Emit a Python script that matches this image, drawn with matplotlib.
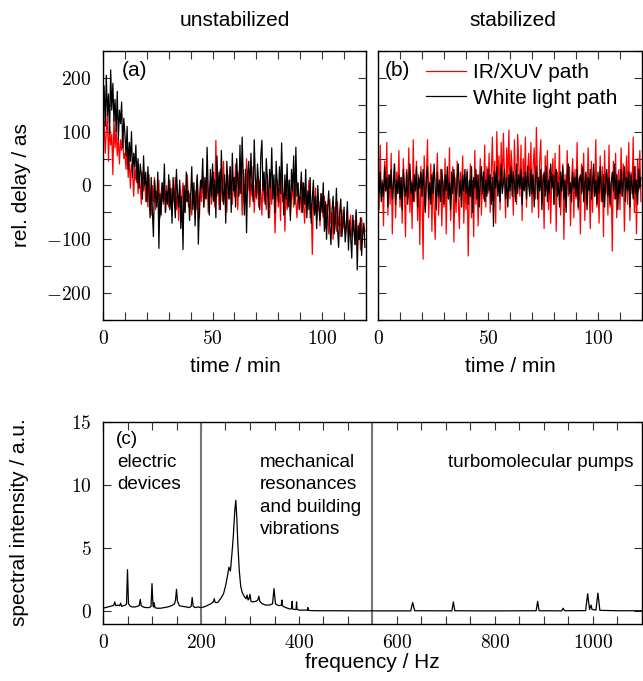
import numpy as np
import matplotlib
matplotlib.use("Agg")
import matplotlib.pyplot as plt
from matplotlib.ticker import MultipleLocator, FuncFormatter, NullFormatter

plt.rcParams['mathtext.fontset'] = 'cm'
plt.rcParams['font.family'] = ['Liberation Sans', 'DejaVu Sans']

# ---------------- data ----------------
time_step_min = 0.5

unstab_white = [
    150, 185, 110, 205, 130, 170, 95, 215, 140, 190, 120, 160, 100, 175, 85, 140, 115, 155, 70, 125,
    95, 55, 110, 30, 80, 45, 100, 15, 60, 35, 75, 5, 50, -5, 40, 20, -25, 55, 0, 25,
    -30, 35, -10, -60, 15, -45, -95, 10, -20, -40, 25, -117, -15, -55, 5, -30, 40, -50, -10, -35,
    20, -45, -5, -70, 15, -25, -60, 30, -15, -40, 10, -80, -20, -119, 0, -50, 25, -30, -10, -65,
    -20, 35, -45, 5, -75, -15, 20, -109, -35, 10, -5, 50, -40, 15, -25, 71, -10, -55, 30, -20,
    40, -30, 10, -60, 55, -15, 25, -45, 65, -5, -35, 20, -70, 45, 0, -25, 35, -50, 60, -10,
    15, -40, 50, 5, -20, 75, -15, 90, 10, -55, 30, -88, 20, 45, -10, 60, 0, -30, 85, 15,
    -20, 40, 5, -45, 55, 84, -10, 25, -35, 50, 10, -60, 30, -5, 70, -25, 20, -50, 45, 0,
    -30, 35, -15, 79, -5, -55, 20, -25, 40, -40, 10, -65, 30, -10, 55, -35, 71, -20, 5, -45,
    -15, 25, -50, 5, -35, 30, -60, -10, -45, 15, -70, -25, 10, -55, -20, -80, 0, -40, -65, -15,
    -50, 5, -85, -30, -100, -40, -10, -75, -110, -45, -20, -90, -60, -5, -80, -115, -50, -25, -95, -70,
    -40, -105, -80, -30, -120, -65, -95, -135, -55, -85, -110, -45, -157, -75, -100, -60, -130, -90, -70, -115,
]

unstab_ir = [
    80, 120, 60, 100, 135, 45, 110, 75, 95, 20, 125, 70, 105, 55, 90, 40, 85, 65, 100, 50,
    60, 30, 75, 15, 50, -5, 40, 25, -20, 35, 10, 45, -15, 20, 0, -35, 25, -10, 15, -30,
    5, -40, 20, -20, -55, 0, -30, 15, -45, -10, -25, 10, -60, -15, 5, -35, -5, -50, 0, -20,
    -40, 10, -25, -55, -5, -30, 15, -45, -15, -65, 0, -35, -20, 5, -50, -10, -30, 20, -40, -15,
    -25, -55, 5, -35, -10, -45, 15, -20, -60, 0, -30, 20, -40, -5, -25, 30, -50, -10, 10, -35,
    -15, 25, -40, 84, -20, 10, -45, 30, -5, -30, 45, -15, 5, -50, 20, -25, 35, -10, -35, 15,
    -20, 40, -5, -45, 25, -15, 10, -55, 30, 0, -30, 50, -10, 20, -40, 5, -20, 35, -50, 0,
    -25, 15, -40, 10, -15, -55, 25, -30, 0, -45, 20, -20, -60, 5, -35, 15, -10, -88, -25, 10,
    -40, -5, -65, 20, -30, -15, -85, 5, -45, -20, 10, -55, -25, 0, -40, 25, -30, -60, -10, -35,
    -20, -50, 5, -35, -70, -15, -45, -25, 10, -60, -35, -128, -20, -50, -5, -65, -40, -30, -75, -15,
    -45, -60, -20, -80, -35, -55, -90, -25, -70, -50, -100, -40, -65, -85, -30, -75, -55, -95, -45, -80,
    -60, -90, -70, -40, -105, -75, -55, -95, -80, -65, -110, -50, -85, -100, -70, -120, -60, -90, -75, -85,
]

stab_ir = [
    30, -45, 75, -20, 10, -75, 45, -10, 80, -55, 20, -35, 60, -90, 5, 40, -60, 25, -15, 65,
    -40, 15, -70, 50, -5, -95, 30, -25, 70, -50, 10, -80, 85, -30, 0, 45, -65, 20, -110, 35,
    -20, -137, 55, -45, 15, 85, -60, -10, 40, -85, 25, -35, -100, 5, 60, -55, -15, 30, -75, 10,
    -40, 50, -90, 20, -25, 70, -65, 0, 35, -105, 15, -50, 45, -30, -80, 25, -10, 55, -70, 5,
    -45, 30, -131, -20, 40, -60, 10, -95, 65, -35, 20, -75, 0, 50, -55, 15, -25, 75, -40, 35,
    -15, 60, -50, 25, 90, -30, 45, -70, 100, 10, 55, -45, 80, -10, 97, 20, -60, 70, 5, 103,
    -25, 65, 30, -55, 85, 15, -35, 95, 40, -20, 75, -65, 50, 0, 90, -40, 25, 60, -15, 80,
    -50, 35, 70, -25, 108, 10, -60, 45, 85, -30, 20, -80, 55, -10, 65, -45, 30, -70, 15, 50,
    -35, 60, -85, 25, -15, 75, -55, 5, 40, -100, 20, -40, 65, -20, 35, -75, 10, 50, -60, 30,
    -25, 80, -45, 15, -90, 40, -10, 60, -65, 20, -35, 70, -5, -80, 45, -50, 25, -20, 85, -40,
    10, -70, 55, -30, 35, -95, 65, -15, 20, -55, 75, -40, 5, -122, 45, -25, 60, -60, 15, 30,
    -45, 70, -20, 40, -85, 10, 55, -35, 80, -65, 25, -15, 90, -50, 35, -90, 50, -10, 65, -30,
]

stab_white = [
    10, -15, 25, -30, 5, -20, 35, -10, 15, -40, 20, -5, 30, -25, 0, 40, -35, 10, -15, 20,
    -25, 15, -45, 30, -5, -20, 25, -35, 10, 40, -15, 5, -30, 20, -10, 35, -40, 15, -5, 25,
    -20, 30, -10, -50, 15, 35, -25, 5, -35, 20, -15, 40, -5, -45, 25, -20, 10, -30, 30, 0,
    -35, 20, -10, 35, -25, 5, -45, 25, -15, 30, -5, -30, 15, 40, -20, 10, -40, 20, -10, 30,
    -15, 25, -35, 10, -20, 35, -50, 15, -5, 30, -25, 20, -40, 5, 35, -15, 25, -30, 10, -20,
    30, -10, 20, -35, 15, -76, 25, -5, 35, -20, 10, -30, 40, -15, 5, 30, -25, 15, -40, 20,
    -10, 35, -20, 25, 5, -30, 40, -15, 20, -5, 30, -35, 15, -10, 25, -25, 35, 0, -20, 30,
    -15, 20, -40, 10, 35, -25, 15, -10, 30, -45, 5, 25, -20, 35, -30, 10, -15, 40, -5, 20,
    -35, 15, 30, -20, 5, -40, 25, -10, 35, -25, 10, -50, 20, 40, -15, 5, -30, 25, -5, 15,
    -20, 30, -40, 10, 20, -15, 35, -30, 5, 25, -45, 15, -10, 30, -25, 0, 40, -20, 10, -35,
    25, -15, 35, -5, -30, 20, -40, 10, 30, -20, 15, -35, 5, 25, -10, 40, -25, 20, -45, 10,
    -15, 30, -20, 5, 35, -30, 15, -10, 25, -40, 20, 0, -25, 35, -15, 10, -35, 30, -5, 15,
]

freq_hz = [0, 5, 10, 15, 20, 22, 24, 26, 30, 34, 36, 38, 42, 46, 48, 50, 52, 56, 60, 65,
           70, 74, 76, 78, 82, 88, 94, 98, 100, 102, 103, 104, 106, 110, 118, 125, 132, 140, 146, 148,
           150, 152, 156, 162, 170, 176, 180, 182, 184, 188, 194, 200, 206, 212, 220, 225, 227, 229, 234, 240,
           246, 250, 254, 257, 260, 263, 266, 269, 271, 273, 275, 278, 281, 284, 288, 292, 294, 296, 298, 300,
           302, 306, 312, 316, 318, 320, 325, 332, 340, 346, 349, 352, 356, 360, 364, 365, 366, 370, 380, 385,
           386, 387, 390, 394, 395, 396, 400, 410, 417, 418, 419, 425, 440, 470, 520, 580, 628, 632, 636, 680,
           712, 715, 718, 760, 820, 884, 887, 890, 936, 939, 942, 985, 989, 993, 996, 998, 1006, 1010, 1014, 1050,
           1100]
spectral_intensity = [0.25, 0.3, 0.35, 0.4, 0.45, 0.5, 0.75, 0.45, 0.5, 0.45, 0.65, 0.4, 0.45, 0.5, 0.6, 3.3, 0.6, 0.4, 0.35, 0.35,
                      0.4, 0.45, 0.95, 0.45, 0.35, 0.3, 0.3, 0.4, 2.2, 0.5, 0.35, 0.7, 0.3, 0.25, 0.25, 0.3, 0.35, 0.45, 0.6, 0.9,
                      1.75, 0.8, 0.45, 0.4, 0.35, 0.3, 0.4, 1.1, 0.4, 0.3, 0.35, 0.3, 0.35, 0.45, 0.6, 0.75, 1.0, 0.7, 0.7, 1.0,
                      1.4, 2.0, 2.8, 3.5, 3.2, 4.5, 6.0, 8.0, 8.8, 7.5, 5.5, 3.3, 2.0, 1.5, 1.2, 1.0, 1.3, 0.9, 1.0, 1.35,
                      0.8, 0.75, 0.8, 0.9, 1.2, 0.8, 0.6, 0.5, 0.5, 0.6, 1.8, 0.6, 0.5, 0.45, 0.5, 0.9, 0.45, 0.35, 0.2, 0.2,
                      0.8, 0.2, 0.15, 0.15, 0.75, 0.15, 0.1, 0.1, 0.1, 0.3, 0.08, 0.06, 0.05, 0.05, 0.04, 0.04, 0.04, 0.7, 0.05, 0.04,
                      0.04, 0.75, 0.05, 0.04, 0.04, 0.05, 0.8, 0.05, 0.04, 0.25, 0.05, 0.06, 1.4, 0.15, 0.5, 0.15, 0.1, 1.45, 0.08, 0.05,
                      0.05]

region_bounds_hz = [200, 550]

t_unstab = np.arange(len(unstab_white)) * time_step_min
t_stab = np.arange(len(stab_white)) * time_step_min

# ---------------- figure ----------------
W, H = 643, 681
fig = plt.figure(figsize=(W / 100, H / 100), dpi=100)

def ax_rect(l, r, t, b):
    return [l / W, 1 - b / H, (r - l) / W, (b - t) / H]

ax_a = fig.add_axes(ax_rect(103, 366, 51, 320))
ax_b = fig.add_axes(ax_rect(378, 642, 51, 320))
ax_c = fig.add_axes(ax_rect(103, 642, 422, 624))

TICK_FS = 14
TXT_FS = 15
C_FS = 13.6
mfmt = FuncFormatter(lambda v, p: r'$%d$' % int(round(v)) if v >= 0 else r'$-%d$' % int(round(-v)))

def style(ax):
    ax.tick_params(which='both', direction='in', top=True, right=True,
                   length=6, width=0.8, labelsize=TICK_FS, color='#333333')
    for s in ax.spines.values():
        s.set_linewidth(1.0)

for ax in (ax_a, ax_b):
    ax.set_xlim(0, 120)
    ax.set_ylim(-250, 250)
    ax.xaxis.set_major_locator(MultipleLocator(50))
    ax.xaxis.set_minor_locator(MultipleLocator(10))
    ax.yaxis.set_major_locator(MultipleLocator(100))
    ax.yaxis.set_minor_locator(MultipleLocator(50))
    ax.xaxis.set_major_formatter(mfmt)
    ax.yaxis.set_major_formatter(mfmt)
    style(ax)
    ax.tick_params(axis='x', pad=7)
    ax.tick_params(axis='y', pad=8)

ax_b.yaxis.set_major_formatter(NullFormatter())

ax_a.plot(t_unstab, unstab_ir, color='#ff0000', lw=0.9)
ax_a.plot(t_unstab, unstab_white, color='black', lw=0.9)
ax_b.plot(t_stab, stab_ir, color='#ff0000', lw=0.9, label='IR/XUV path')
ax_b.plot(t_stab, stab_white, color='black', lw=0.9, label='White light path')

leg = ax_b.legend(loc='upper right', frameon=False, fontsize=TXT_FS,
                  handlelength=1.9, handletextpad=0.35, labelspacing=0.3,
                  borderaxespad=0.2, bbox_to_anchor=(0.955, 1.0))

ax_a.text(122 / W, 1 - 70 / H, '(a)', transform=fig.transFigure, fontsize=TXT_FS, va='center', ha='left')
ax_b.text(385 / W, 1 - 70 / H, '(b)', transform=fig.transFigure, fontsize=TXT_FS, va='center', ha='left')

# spectrum
ax_c.set_xlim(0, 1100)
ax_c.set_ylim(-1, 15)
ax_c.xaxis.set_major_locator(MultipleLocator(200))
ax_c.xaxis.set_minor_locator(MultipleLocator(50))
ax_c.yaxis.set_major_locator(MultipleLocator(5))
ax_c.xaxis.set_major_formatter(mfmt)
ax_c.yaxis.set_major_formatter(mfmt)
style(ax_c)
ax_c.tick_params(axis='x', pad=7)
ax_c.tick_params(axis='y', pad=8)
for xb in region_bounds_hz:
    ax_c.axvline(xb, color='#777777', lw=1.5)
ax_c.plot(freq_hz, spectral_intensity, color='black', lw=0.9)

ax_c.text(116 / W, 1 - 439 / H, '(c)', transform=fig.transFigure, fontsize=C_FS, va='center', ha='left')
ax_c.text(117 / W, 1 - 454 / H, 'electric\ndevices', transform=fig.transFigure, fontsize=C_FS,
          va='top', ha='left', linespacing=1.42)
ax_c.text(260 / W, 1 - 454 / H, 'mechanical\nresonances\nand building\nvibrations', transform=fig.transFigure,
          fontsize=C_FS, va='top', ha='left', linespacing=1.42)
ax_c.text(634 / W, 1 - 454 / H, 'turbomolecular pumps', transform=fig.transFigure, fontsize=C_FS,
          va='top', ha='right')

# titles and axis labels
fig.text(235 / W, 1 - 21 / H, 'unstabilized', fontsize=TXT_FS, ha='center', va='center')
fig.text(513 / W, 1 - 21 / H, 'stabilized', fontsize=TXT_FS, ha='center', va='center')
fig.text(235 / W, 1 - 367 / H, 'time / min', fontsize=TXT_FS, ha='center', va='center')
fig.text(510 / W, 1 - 367 / H, 'time / min', fontsize=TXT_FS, ha='center', va='center')
fig.text(372 / W, 1 - 663 / H, 'frequency / Hz', fontsize=TXT_FS, ha='center', va='center')
fig.text(22 / W, 1 - 185 / H, 'rel. delay / as', fontsize=TXT_FS, ha='center', va='center', rotation=90)
fig.text(20 / W, 1 - 522 / H, 'spectral intensity / a.u.', fontsize=TXT_FS, ha='center', va='center', rotation=90)

fig.savefig('out.png', dpi=100)
